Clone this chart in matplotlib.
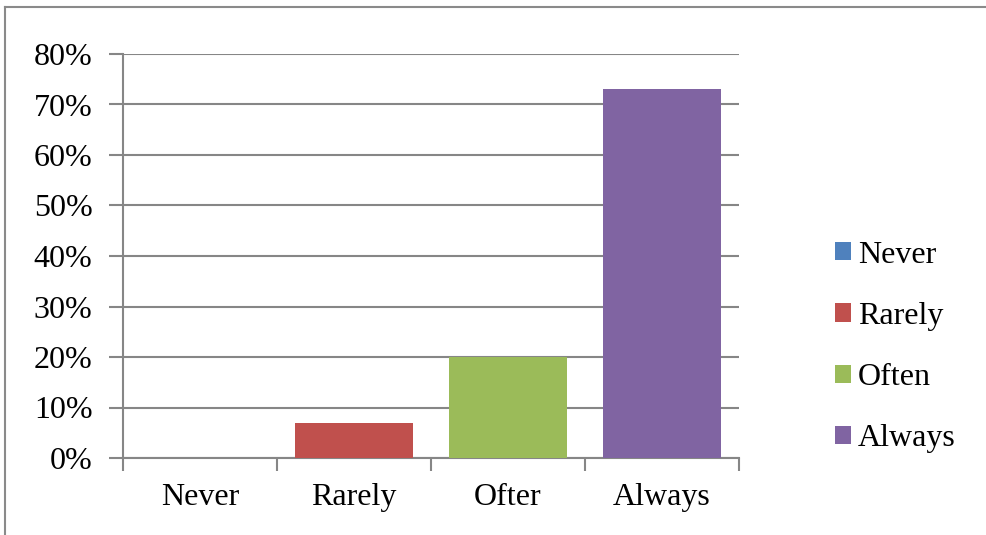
import matplotlib
matplotlib.use("Agg")
import matplotlib.pyplot as plt
from matplotlib.patches import Patch
from matplotlib.lines import Line2D
from matplotlib.ticker import FuncFormatter, MultipleLocator

categories = ["Never", "Rarely", "Often", "Always"]
tick_labels = ["Never", "Rarely", "Ofter", "Always"]
values = [0, 7, 20, 73]
colors = ["#4F81BD", "#C0504D", "#9BBB59", "#8064A2"]

plt.rcParams['font.family'] = ['Liberation Serif', 'DejaVu Serif']
fs = 23
grid_c = "#868686"

fig = plt.figure(figsize=(9.87, 5.35), dpi=100)
ax = fig.add_axes([123/987, 1-458/535, (739-123)/987, (458-54)/535])

x = list(range(len(categories)))
ax.bar(x, values, width=0.77, color=colors, zorder=3)

ax.set_xlim(-0.5, len(categories) - 0.5)
ax.set_ylim(0, 80)
ax.yaxis.set_major_locator(MultipleLocator(10))
ax.yaxis.set_major_formatter(FuncFormatter(lambda v, p: f"{int(v)}%"))
ax.set_xticks([i - 0.5 for i in range(len(categories) + 1)])
ax.set_xticklabels([])
ax.set_xticks(x, minor=True)
ax.set_xticklabels(tick_labels, minor=True)
ax.tick_params(axis='x', which='minor', length=0, pad=18, labelsize=fs)
ax.tick_params(axis='x', which='major', length=9, width=1.5, color=grid_c)
ax.tick_params(axis='y', length=10, width=1.5, color=grid_c, labelsize=fs, pad=12)

ax.grid(axis='y', color=grid_c, linewidth=1.5, zorder=0)
ax.set_axisbelow(True)
for s in ['top', 'right']:
    ax.spines[s].set_visible(False)
for s in ['left', 'bottom']:
    ax.spines[s].set_color(grid_c)
    ax.spines[s].set_linewidth(1.5)

handles = [Patch(facecolor=c, edgecolor='none') for c in colors]
fig.legend(handles, categories, loc='center left',
           bbox_to_anchor=(835/987, 1-347/535), frameon=False,
           fontsize=fs, handlelength=0.5, handleheight=0.5,
           handletextpad=0.22, labelspacing=1.01, borderpad=0,
           borderaxespad=0)

# outer chart border
fig.add_artist(Line2D([5/987, 1], [1-7/535, 1-7/535], color="#8a8a8a", lw=1.5, transform=fig.transFigure))
fig.add_artist(Line2D([5/987, 5/987], [0, 1-7/535], color="#8a8a8a", lw=1.5, transform=fig.transFigure))

fig.savefig("out.png", dpi=100)
